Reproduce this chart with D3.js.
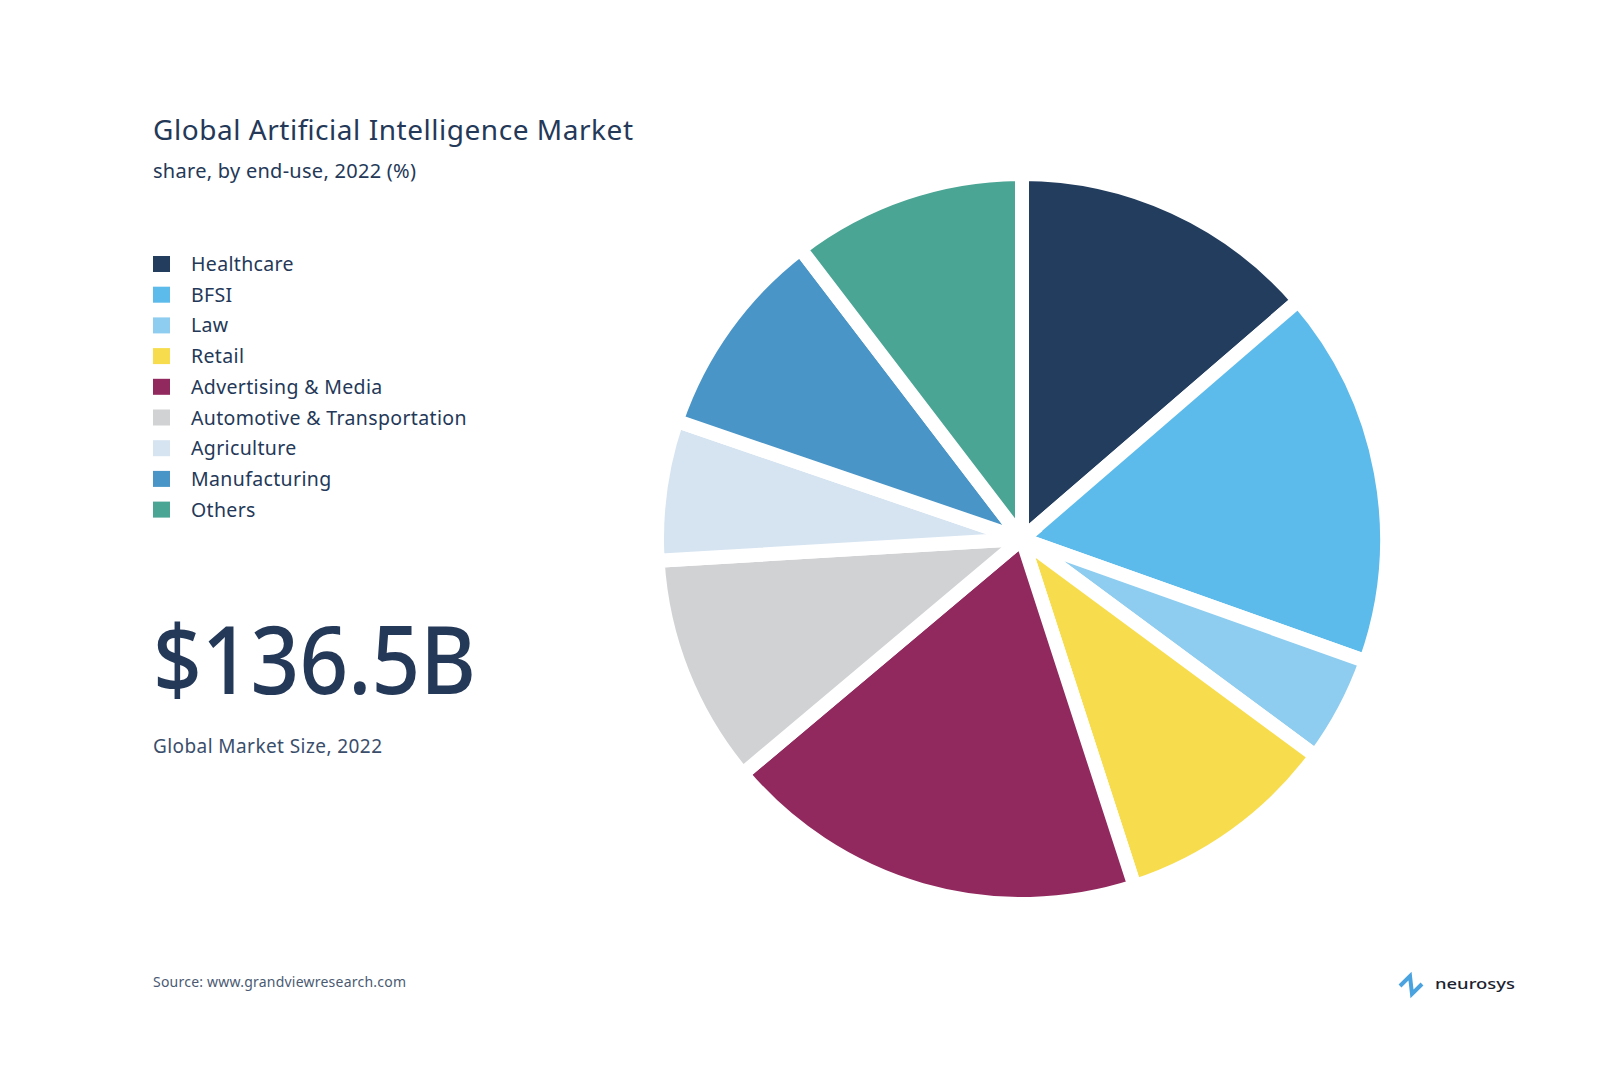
<!DOCTYPE html>
<html><head><meta charset="utf-8">
<script src="https://cdn.jsdelivr.net/npm/d3@7"></script>
<style>html,body{margin:0;padding:0;background:#fff;}svg{display:block;}</style>
</head><body>
<script>
const categories = ["Healthcare","BFSI","Law","Retail","Advertising & Media","Automotive & Transportation","Agriculture","Manufacturing","Others"];
const shares = [13.7, 16.8, 4.7, 9.9, 18.9, 10.2, 6.2, 9.4, 10.4];
const colors = ["#223d5e","#5dbbeb","#8ecdf0","#f7dd4d","#92295e","#d1d2d4","#d6e4f1","#4a95c7","#4ba594"];
const marketSize = "$136.5B";

const W = 1600, H = 1069;
const ink = "#243858";
const font = "'Noto Sans', 'Open Sans', sans-serif";
const svg = d3.select("body").append("svg").attr("width", W).attr("height", H);
svg.append("rect").attr("width", W).attr("height", H).attr("fill", "#fff");

svg.append("text").attr("x", 153).attr("y", 140).attr("fill", ink)
  .attr("font-family", font).attr("font-size", 28).attr("textLength", 480).text("Global Artificial Intelligence Market");
svg.append("text").attr("x", 153).attr("y", 178).attr("fill", ink)
  .attr("font-family", font).attr("font-size", 20).attr("textLength", 263).text("share, by end-use, 2022 (%)");

const leg = svg.append("g");
const lg = leg.selectAll("g").data(categories).join("g")
  .attr("transform", (d,i) => `translate(153, ${264 + i*30.7})`);
lg.append("rect").attr("x", 0).attr("y", -8).attr("width", 17).attr("height", 16)
  .attr("fill", (d,i) => colors[i]);
lg.append("text").attr("x", 38).attr("y", 7).attr("fill", ink)
  .attr("font-family", font).attr("font-size", 19.5).attr("letter-spacing", 0.35).text(d => d);

svg.append("text").attr("x", 153).attr("y", 694).attr("fill", ink)
  .attr("font-family", font).attr("font-size", 94).attr("font-weight", 500).attr("textLength", 323).attr("lengthAdjust","spacingAndGlyphs").text(marketSize);
svg.append("text").attr("x", 153).attr("y", 753).attr("fill", "#3a4e6b")
  .attr("font-family", font).attr("font-size", 19).attr("textLength", 229).text("Global Market Size, 2022");

svg.append("text").attr("x", 153).attr("y", 987).attr("fill", "#4a5a72")
  .attr("font-family", font).attr("font-size", 14).attr("textLength", 253).text("Source: www.grandviewresearch.com");

// logo
const logo = svg.append("g").attr("transform","translate(1400,994)");
logo.append("path").attr("d","M0,-8 L10,-18 L12,0 L22,-10").attr("fill","none").attr("stroke","#4aa3df").attr("stroke-width",4);
logo.append("text").attr("x", 35).attr("y", -5).attr("fill", "#1c2330")
  .attr("font-family", font).attr("font-size", 15).attr("font-weight", 500).attr("textLength", 80).attr("lengthAdjust","spacingAndGlyphs").text("neurosys");

// pie
const cx = 1022, cy = 539, R = 365;
const pie = d3.pie().sort(null).value(d => d)(shares);
const arc = d3.arc().innerRadius(0).outerRadius(R);
svg.append("g").attr("transform", `translate(${cx},${cy})`)
  .selectAll("path").data(pie).join("path")
  .attr("d", arc).attr("fill", (d,i) => colors[i])
  .attr("stroke", "#fff").attr("stroke-width", 14).attr("stroke-linejoin","miter");
</script>
</body></html>
